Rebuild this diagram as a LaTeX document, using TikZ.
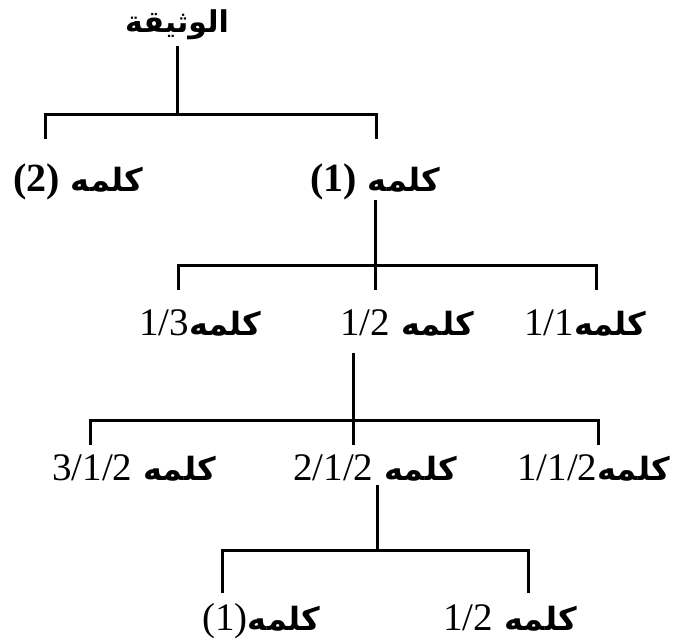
\documentclass[tikz,border=0pt]{standalone}
\usepackage{fontspec}
\TeXXeTstate=1
\newfontfamily\arabicfont[Script=Arabic]{DejaVu Sans}
\newfontfamily\numfont{Liberation Serif}
\newcommand\kalima{\arabicfont\bfseries\fontsize{32}{34}\selectfont}
\newcommand\numtxt{\numfont\mdseries\fontsize{39}{40}\selectfont}
\newcommand\numbold{\numfont\bfseries\fontsize{40}{40}\selectfont}
\begin{document}
\begin{tikzpicture}[x=1pt,y=-1pt,
  lab/.style={inner sep=0pt,anchor=base west},
  conn/.style={line width=3pt,line cap=butt}]
\useasboundingbox (0,0) rectangle (677,642);
% nodes
\node[inner sep=0pt] (t) at (177,25) {\arabicfont\bfseries\fontsize{30}{32}\selectfont\beginR الوثيقة\endR};
\node[lab] (n2) at (13,191) {\kalima\beginR كلمه {\numbold\beginL(2)\endL}\endR};
\node[lab] (n1) at (310,191) {\kalima\beginR كلمه {\numbold\beginL(1)\endL}\endR};
\node[lab] (n13) at (139,335) {\kalima\beginR كلمه{\numtxt\beginL1/3\endL}\endR};
\node[lab] (n12) at (340,335) {\kalima\beginR كلمه {\numtxt\beginL1/2\endL}\endR};
\node[lab] (n11) at (524,335) {\kalima\beginR كلمه{\numtxt\beginL1/1\endL}\endR};
\node[lab] (n123) at (52,480) {\kalima\beginR كلمه {\numtxt\beginL3/1/2\endL}\endR};
\node[lab] (n122) at (293,480) {\kalima\beginR كلمه {\numtxt\beginL2/1/2\endL}\endR};
\node[lab] (n121) at (517,480) {\kalima\beginR كلمه{\numtxt\beginL1/1/2\endL}\endR};
\node[lab] (n1221) at (202,630) {\kalima\beginR كلمه{\numtxt\beginL(1)\endL}\endR};
\node[lab] (n1222) at (443,630) {\kalima\beginR كلمه {\numtxt\beginL1/2\endL}\endR};
% connector points
\coordinate (t-s) at (177,46);
\coordinate (b0) at (177,114);
\coordinate (b0l) at (45,114);
\coordinate (b0r) at (376,114);
\coordinate (d2) at (45,139);
\coordinate (d1) at (376,139);
\coordinate (n1-s) at (375,200);
\coordinate (b1l) at (178,265);
\coordinate (b1r) at (596,265);
\coordinate (d13) at (178,290);
\coordinate (d12) at (375,290);
\coordinate (d11) at (596,290);
\coordinate (n12-s) at (353,353);
\coordinate (b2l) at (90,420);
\coordinate (b2r) at (598,420);
\coordinate (d123) at (90,445);
\coordinate (d122) at (353,445);
\coordinate (d121) at (598,445);
\coordinate (n122-s) at (377,485);
\coordinate (b3) at (377,550);
\coordinate (b3l) at (222,550);
\coordinate (b3r) at (528,550);
\coordinate (d1221) at (222,593);
\coordinate (d1222) at (528,593);
% connectors
\draw[conn] (t-s) -- (b0);
\draw[conn] (d2) -- (b0l) -- (b0r) -- (d1);
\draw[conn] (n1-s) -- (d12);
\draw[conn] (d13) -- (b1l) -- (b1r) -- (d11);
\draw[conn] (n12-s) -- (d122);
\draw[conn] (d123) -- (b2l) -- (b2r) -- (d121);
\draw[conn] (n122-s) -- (b3);
\draw[conn] (d1221) -- (b3l) -- (b3r) -- (d1222);
\end{tikzpicture}
\end{document}
